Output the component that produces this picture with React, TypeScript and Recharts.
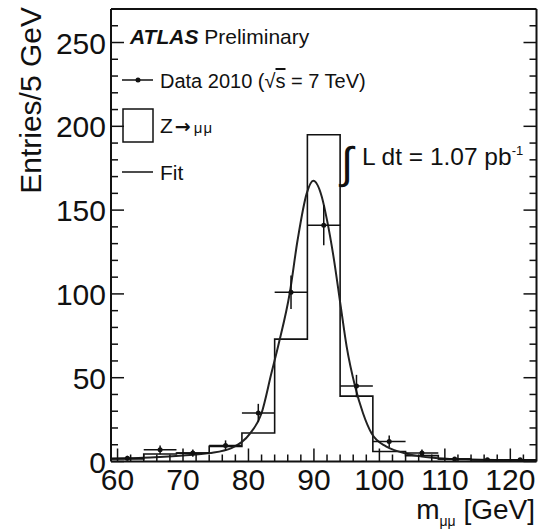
import React from "react"
import { ComposedChart, Line, Scatter, ErrorBar, XAxis, YAxis } from "recharts"

// Z -> mumu invariant mass, 5 GeV bins
const binEdges = [59, 64, 69, 74, 79, 84, 89, 94, 99, 104, 109, 114, 119, 124]
const mcCounts = [1.5, 4.5, 5, 9, 17, 73, 195, 39, 6, 3.5, 1.5, 1, 0.7]

const dataMass = [61.5, 66.5, 71.5, 76.5, 81.5, 86.5, 91.5, 96.5, 101.5, 106.5, 111.5, 116.5, 121.5]
const dataCounts = [2, 7, 5, 9.5, 29, 101, 141, 45, 12, 5, 1.5, 1, 1]
const dataErrors = [1.4, 2.6, 2.2, 3.1, 5.4, 10, 12, 6.7, 3.5, 2.2, 1.2, 1, 1]
const binHalfWidth = 2.5

const fitMass = [59, 65, 70, 74, 77.4, 80.2, 82, 83.5, 84.6, 86.3, 87.5, 88.9, 89.9, 91.2, 92, 93, 94.1, 95, 96.3, 97.5, 98.8, 101, 102.5, 104, 106, 109, 114, 119, 124]
const fitValues = [1.5, 2.4, 3.6, 5, 8, 16.5, 28.8, 52.6, 70, 100.4, 132, 160, 167.5, 158, 144, 122, 92.4, 68.5, 44.6, 28.8, 16.8, 9, 6.5, 4.8, 3.2, 2, 1.2, 0.9, 0.7]

const xMajorTicks = [60, 70, 80, 90, 100, 110, 120]
const yMajorTicks = [0, 50, 100, 150, 200, 250]

const W = 539
const H = 529
const INK = "#111"
const FONT = "'Liberation Sans', Arial, Helvetica, sans-serif"

const xTicks: number[] = []
for (let v = 60; v <= 122; v += 2) xTicks.push(v)
const yTicks: number[] = []
for (let v = 0; v <= 260; v += 10) yTicks.push(v)

const histData = binEdges.map((e, i) => ({ x: e, y: mcCounts[Math.min(i, mcCounts.length - 1)] }))
const fitData = fitMass.map((m, i) => ({ x: m, y: fitValues[i] }))
const points = dataMass.map((m, i) => ({ x: m, y: dataCounts[i], ex: binHalfWidth, ey: dataErrors[i] }))

const frame = { stroke: INK, strokeWidth: 2 }

function BottomTick(p: any) {
  const major = xMajorTicks.includes(p.payload.value)
  return (
    <g>
      <line x1={p.x} y1={p.y} x2={p.x} y2={p.y - (major ? 13 : 7)} stroke={INK} strokeWidth={1.5} />
      {major && (
        <text x={p.x} y={p.y + 28.5} textAnchor="middle" fontSize={30} fill={INK}>
          {p.payload.value}
        </text>
      )}
    </g>
  )
}

function TopTick(p: any) {
  const major = xMajorTicks.includes(p.payload.value)
  return <line x1={p.x} y1={p.y} x2={p.x} y2={p.y + (major ? 13 : 7)} stroke={INK} strokeWidth={1.5} />
}

function LeftTick(p: any) {
  const major = yMajorTicks.includes(p.payload.value)
  return (
    <g>
      <line x1={p.x} y1={p.y} x2={p.x + (major ? 13 : 7)} y2={p.y} stroke={INK} strokeWidth={1.5} />
      {major && (
        <text x={p.x - 5} y={p.y + 11} textAnchor="end" fontSize={30} fill={INK}>
          {p.payload.value}
        </text>
      )}
    </g>
  )
}

function RightTick(p: any) {
  const major = yMajorTicks.includes(p.payload.value)
  return <line x1={p.x} y1={p.y} x2={p.x - (major ? 13 : 7)} y2={p.y} stroke={INK} strokeWidth={1.5} />
}

export default function App() {
  return (
    <div style={{ position: "absolute", left: 0, top: 0, width: W, height: H, background: "#fff", fontFamily: FONT }}>
      <ComposedChart width={W} height={H} margin={{ top: 0, right: 0, bottom: 0, left: 0 }}>
        <XAxis
          xAxisId="b"
          dataKey="x"
          type="number"
          orientation="bottom"
          domain={[59, 124]}
          allowDataOverflow
          ticks={xTicks}
          interval={0}
          height={67.5}
          tickSize={0}
          tickMargin={0}
          tick={BottomTick}
          axisLine={frame}
        />
        <XAxis
          xAxisId="t"
          type="number"
          orientation="top"
          domain={[59, 124]}
          allowDataOverflow
          ticks={xTicks}
          interval={0}
          height={9}
          tickSize={0}
          tickMargin={0}
          tick={TopTick}
          axisLine={frame}
        />
        <YAxis
          yAxisId="l"
          type="number"
          domain={[0, 270]}
          allowDataOverflow
          ticks={yTicks}
          interval={0}
          width={111}
          tickSize={0}
          tickMargin={0}
          tick={LeftTick}
          axisLine={frame}
        />
        <YAxis
          yAxisId="r"
          type="number"
          orientation="right"
          domain={[0, 270]}
          allowDataOverflow
          ticks={yTicks}
          interval={0}
          width={2.5}
          tickSize={0}
          tickMargin={0}
          tick={RightTick}
          axisLine={frame}
        />
        <Line
          xAxisId="b"
          yAxisId="l"
          data={histData}
          dataKey="y"
          type="stepAfter"
          stroke={INK}
          strokeWidth={1.6}
          dot={false}
          isAnimationActive={false}
        />
        <Line
          xAxisId="b"
          yAxisId="l"
          data={fitData}
          dataKey="y"
          type="monotone"
          stroke="#222"
          strokeWidth={2}
          dot={false}
          isAnimationActive={false}
        />
        <Scatter
          xAxisId="b"
          yAxisId="l"
          data={points}
          dataKey="y"
          fill={INK}
          isAnimationActive={false}
          shape={(s: any) => <circle cx={s.cx} cy={s.cy} r={2.5} fill={INK} />}
        >
          <ErrorBar dataKey="ey" direction="y" width={0} stroke={INK} strokeWidth={1.5} isAnimationActive={false} />
          <ErrorBar dataKey="ex" direction="x" width={0} stroke={INK} strokeWidth={1.5} isAnimationActive={false} />
        </Scatter>
      </ComposedChart>

      <svg width={W} height={H} style={{ position: "absolute", left: 0, top: 0, pointerEvents: "none" }}>
        <text transform="translate(41,7) rotate(-90)" textAnchor="end" fontSize={30} fill={INK}>
          Entries/5 GeV
        </text>
        <text x={535} y={519} textAnchor="end" fontSize={28} fill={INK}>
          m<tspan fontSize={14} dy={7}>μμ</tspan>
          <tspan dy={-7}> [GeV]</tspan>
        </text>

        <text x={130} y={44} fontSize={21} fill={INK}>
          <tspan fontWeight="bold" fontStyle="italic">ATLAS</tspan>
          <tspan> Preliminary</tspan>
        </text>

        <line x1={122} y1={80} x2={153} y2={80} stroke={INK} strokeWidth={1.5} />
        <circle cx={138} cy={80} r={2.5} fill={INK} />
        <text x={160} y={88} fontSize={20} fill={INK}>
          Data 2010 (√<tspan style={{ textDecoration: "overline" }}>s</tspan> = 7 TeV)
        </text>

        <rect x={123} y={109} width={30} height={33} fill="none" stroke={INK} strokeWidth={1.5} />
        <text x={160} y={133} fontSize={21} fill={INK}>
          Z
          <tspan dx={2} fontSize={19} fontFamily="'DejaVu Sans', sans-serif" fontWeight="bold">→</tspan>
          <tspan dx={3} fontSize={15} letterSpacing={1}>μμ</tspan>
        </text>

        <line x1={122} y1={172} x2={153} y2={172} stroke={INK} strokeWidth={1.5} />
        <text x={160} y={180} fontSize={21} fill={INK}>
          Fit
        </text>

        <text x={341} y={178} fontSize={44} fill={INK}>
          ∫
        </text>
        <text x={362} y={165} fontSize={24.5} fill={INK}>
          L dt = 1.07 pb<tspan fontSize={13} dy={-10}>-1</tspan>
        </text>
      </svg>
    </div>
  )
}
